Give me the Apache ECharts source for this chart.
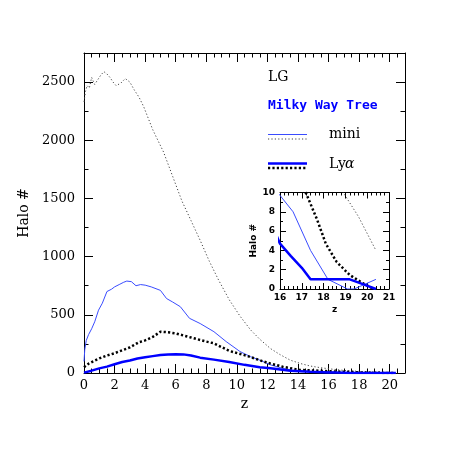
<!DOCTYPE html>
<html>
<head>
<meta charset="utf-8">
<script src="https://cdn.jsdelivr.net/npm/echarts@6/dist/echarts.min.js"></script>
<style>
  html, body { margin: 0; padding: 0; background: #fff; }
  #chart { width: 457px; height: 457px; }
</style>
</head>
<body>
<div id="chart"></div>
<script>
// LG, mini halos (thin dotted)
const lgMiniZ = [0, 0.1, 0.2, 0.35, 0.5, 0.7, 0.9, 1.1, 1.3, 1.5, 1.7, 1.9, 2.1, 2.4, 2.7, 3.0, 3.3, 3.6, 3.9, 4.5, 5.2, 5.8, 6.4, 7.0, 7.6, 8.2, 8.8, 9.5, 10.2, 10.9, 11.5, 12.2, 12.8, 13.5, 14.2, 14.8, 15.5, 16.1, 17.0, 18.0, 18.9, 19.6, 20.4]
const lgMiniN = [2330, 2420, 2470, 2450, 2540, 2480, 2520, 2560, 2590, 2570, 2540, 2500, 2470, 2490, 2530, 2500, 2430, 2370, 2290, 2090, 1900, 1690, 1480, 1310, 1140, 960, 800, 630, 490, 370, 290, 210, 160, 110, 80, 60, 45, 35, 22, 14, 10, 7.5, 4]

// Milky Way Tree, mini halos (thin blue)
const mwMiniZ = [0, 0.05, 0.15, 0.3, 0.5, 0.7, 0.95, 1.2, 1.5, 1.8, 2.0, 2.3, 2.6, 2.8, 3.1, 3.4, 3.7, 4.0, 4.4, 5.0, 5.4, 5.8, 6.3, 6.9, 7.6, 8.5, 9.3, 10.2, 10.9, 11.5, 12.2, 13.0, 13.9, 15.0, 16.0, 16.6, 17.4, 18.2, 19.1, 19.4, 20.4]
const mwMiniN = [100, 200, 280, 330, 380, 440, 540, 600, 700, 720, 740, 760, 780, 790, 785, 750, 760, 755, 740, 710, 640, 610, 570, 470, 425, 355, 270, 185, 140, 110, 70, 40, 18, 12, 9.7, 8, 4, 1, 0, 0, 1]

// Milky Way Tree, Lya halos (thick blue)
const mwLyaZ = [0, 0.5, 1.0, 1.5, 2.0, 2.5, 3.0, 3.5, 4.0, 4.5, 5.0, 5.5, 6.0, 6.5, 7.0, 7.6, 8.5, 9.5, 10.5, 11.5, 12.2, 13.5, 14.8, 16.0, 16.5, 17.0, 17.4, 19.2, 19.8, 20.4]
const mwLyaN = [3, 20, 40, 55, 75, 95, 108, 125, 135, 145, 155, 160, 162, 160, 150, 132, 115, 95, 70, 50, 40, 20, 11, 4.7, 3.4, 2.2, 1, 1, 0.5, 0]

// LG, Lya halos (thick dotted)
const lgLyaZ = [0, 0.3, 0.6, 1.0, 1.5, 2.0, 2.5, 3.0, 3.6, 4.0, 4.5, 5.0, 5.5, 6.0, 7.0, 8.0, 8.5, 9.5, 10.6, 11.5, 12.0, 13.0, 14.1, 15.0, 16.0, 16.6, 17.2, 17.7, 18.1, 18.6, 19.2, 19.8, 20.3]
const lgLyaN = [50, 80, 100, 125, 150, 170, 195, 220, 265, 280, 310, 355, 350, 340, 305, 270, 255, 190, 150, 110, 88, 54, 26, 22, 15, 12, 9.9, 7.2, 4.7, 2.8, 1.45, 0.6, 0]

const pairs = (xs, ys) => xs.map((x, i) => [x, ys[i]])

const SERIF = 'DejaVu Serif'
const BLUE_THIN = '#3a4cff'
const BLUE = '#0000ff'

/**
 * 坐标轴工厂
 */
const makeAxis = (opt) => {
  const small = opt.small
  return {
    type: 'value',
    gridIndex: opt.grid,
    position: opt.position,
    min: opt.min,
    max: opt.max,
    interval: opt.interval,
    name: opt.name || '',
    nameLocation: 'middle',
    nameGap: opt.nameGap,
    nameTextStyle: {
      fontFamily: small ? 'DejaVu Sans' : SERIF,
      fontWeight: small ? 'bold' : 'normal',
      fontSize: small ? 9 : 14,
      color: '#000'
    },
    axisLine: { show: true, onZero: false, lineStyle: { color: '#000', width: 1 } },
    axisTick: { show: true, inside: true, length: small ? 6 : 9, lineStyle: { color: '#000' } },
    minorTick: { show: true, splitNumber: opt.minor, length: small ? 3 : 4.5, lineStyle: { color: '#000' } },
    splitLine: { show: false },
    axisLabel: {
      show: !!opt.labels,
      showMaxLabel: opt.showMax || false,
      margin: opt.margin,
      formatter: (v) => String(v),
      fontFamily: small ? 'DejaVu Sans' : SERIF,
      fontWeight: small ? 'bold' : 'normal',
      fontSize: small ? 9 : 13,
      color: '#000'
    }
  }
}

const chart = echarts.init(document.getElementById('chart'))

const lineSeries = (name, data, style, xi, yi) => ({
  name,
  type: 'line',
  xAxisIndex: xi,
  yAxisIndex: yi,
  data,
  showSymbol: false,
  symbol: 'none',
  clip: true,
  animation: false,
  lineStyle: style
})

const styles = {
  lgMini: { color: '#444', width: 1, type: [1.2, 2.2] },
  mwMini: { color: BLUE_THIN, width: 1 },
  mwLya: { color: BLUE, width: 2.5 },
  lgLya: { color: '#000', width: 2.5, type: [2.2, 2.2] }
}

const allSeries = (xi, yi) => [
  lineSeries('lgMini', pairs(lgMiniZ, lgMiniN), styles.lgMini, xi, yi),
  lineSeries('mwMini', pairs(mwMiniZ, mwMiniN), styles.mwMini, xi, yi),
  lineSeries('lgLya', pairs(lgLyaZ, lgLyaN), styles.lgLya, xi, yi),
  lineSeries('mwLya', pairs(mwLyaZ, mwLyaN), styles.mwLya, xi, yi)
]

const option = {
  backgroundColor: '#fff',
  animation: false,
  grid: [
    { left: 84, top: 53, width: 321, height: 320, containLabel: false, outerBoundsMode: 'none' },
    { left: 280, top: 192.5, width: 109, height: 96.5, containLabel: false, outerBoundsMode: 'none' }
  ],
  xAxis: [
    makeAxis({ grid: 0, position: 'bottom', min: 0, max: 21, interval: 2, minor: 4, labels: true, margin: 6, name: 'z', nameGap: 22 }),
    makeAxis({ grid: 0, position: 'top', min: 0, max: 21, interval: 2, minor: 4 }),
    makeAxis({ grid: 1, position: 'bottom', min: 16, max: 21, interval: 1, minor: 5, labels: true, showMax: true, margin: 4, name: 'z', nameGap: 16, small: true }),
    makeAxis({ grid: 1, position: 'top', min: 16, max: 21, interval: 1, minor: 5, small: true })
  ],
  yAxis: [
    makeAxis({ grid: 0, position: 'left', min: 0, max: 2750, interval: 500, minor: 2, labels: true, margin: 9, name: 'Halo #', nameGap: 48 }),
    makeAxis({ grid: 0, position: 'right', min: 0, max: 2750, interval: 500, minor: 2 }),
    makeAxis({ grid: 1, position: 'left', min: 0, max: 10, interval: 2, minor: 2, labels: true, showMax: true, margin: 5, name: 'Halo #', nameGap: 18, small: true }),
    makeAxis({ grid: 1, position: 'right', min: 0, max: 10, interval: 2, minor: 2, small: true })
  ],
  series: [...allSeries(0, 0), ...allSeries(2, 2)],
  graphic: [
    { type: 'text', left: 268, top: 70, style: { text: 'LG', font: '14px "DejaVu Serif"', fill: '#000' } },
    { type: 'text', left: 268, top: 99, style: { text: 'Milky Way Tree', font: 'bold 13px "DejaVu Sans Mono"', fill: BLUE } },
    { type: 'line', shape: { x1: 268, y1: 134.5, x2: 307, y2: 134.5 }, style: { stroke: BLUE_THIN, lineWidth: 1 } },
    { type: 'line', shape: { x1: 268, y1: 139, x2: 307, y2: 139 }, style: { stroke: '#444', lineWidth: 1, lineDash: [1.2, 2.2] } },
    { type: 'text', left: 329, top: 127, style: { text: 'mini', font: '14px "DejaVu Serif"', fill: '#000' } },
    { type: 'line', shape: { x1: 268, y1: 163.5, x2: 307, y2: 163.5 }, style: { stroke: BLUE, lineWidth: 2.5 } },
    { type: 'line', shape: { x1: 268, y1: 168, x2: 307, y2: 168 }, style: { stroke: '#000', lineWidth: 2.5, lineDash: [2.2, 2.2] } },
    { type: 'text', left: 329, top: 157, style: { text: 'Ly', font: '14px "DejaVu Serif"', fill: '#000' } },
    { type: 'text', left: 345, top: 157, style: { text: 'α', font: 'italic 14px "DejaVu Serif"', fill: '#000' } }
  ]
}

chart.setOption(option)
</script>
</body>
</html>
